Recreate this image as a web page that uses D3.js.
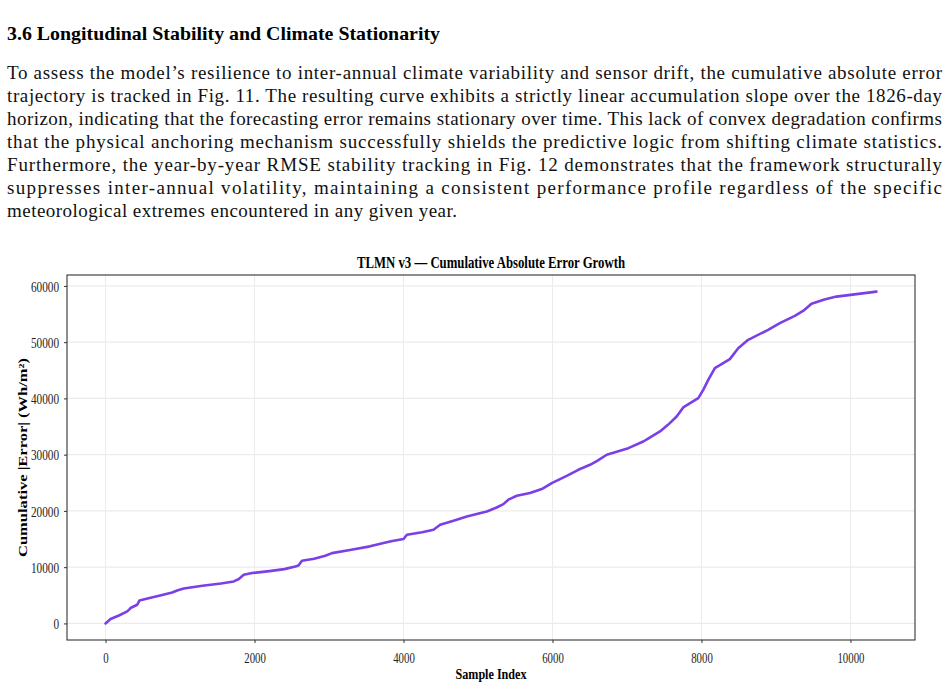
<!DOCTYPE html>
<html>
<head>
<meta charset="utf-8">
<script src="https://cdn.jsdelivr.net/npm/d3@7"></script>
<style>
  html, body { margin: 0; padding: 0; background: #fff; }
  svg { display: block; }
</style>
</head>
<body>
<div id="page"></div>
<script>
// page text
const heading = "3.6 Longitudinal Stability and Climate Stationarity";
const paragraph = [
  "To assess the model\u2019s resilience to inter-annual climate variability and sensor drift, the cumulative absolute error",
  "trajectory is tracked in Fig. 11. The resulting curve exhibits a strictly linear accumulation slope over the 1826-day",
  "horizon, indicating that the forecasting error remains stationary over time. This lack of convex degradation confirms",
  "that the physical anchoring mechanism successfully shields the predictive logic from shifting climate statistics.",
  "Furthermore, the year-by-year RMSE stability tracking in Fig. 12 demonstrates that the framework structurally",
  "suppresses inter-annual volatility, maintaining a consistent performance profile regardless of the specific",
  "meteorological extremes encountered in any given year."
];

// chart data
const sampleIndex = [0, 67, 180, 291, 320, 335, 425, 440, 456, 550, 648, 760, 894, 970, 1050, 1300, 1550, 1721,
  1790, 1855, 1967, 2200, 2400, 2548, 2590, 2637, 2800, 2950, 3040, 3300, 3550, 3732, 3850, 4000, 4046, 4250,
  4403, 4492, 4671, 4850, 5118, 5250, 5341, 5408, 5521, 5699, 5856, 5990, 6191, 6347, 6504, 6600, 6728, 7018,
  7219, 7300, 7443, 7550, 7667, 7755, 7957, 8024, 8091, 8180, 8381, 8493, 8627, 8895, 9052, 9253, 9380, 9477,
  9650, 9812, 10349];
const cumError = [0, 780, 1400, 2130, 2500, 2740, 3320, 3700, 4090, 4400, 4690, 5050, 5510, 5900, 6220, 6700,
  7100, 7460, 7900, 8650, 8950, 9300, 9650, 10130, 10300, 11140, 11500, 12030, 12500, 13100, 13700, 14280, 14650,
  15000, 15760, 16200, 16650, 17540, 18250, 19010, 19900, 20600, 21210, 22000, 22690, 23170, 23880, 24950, 26240,
  27310, 28200, 28900, 29980, 31160, 32340, 33000, 34120, 35300, 36780, 38400, 40050, 41520, 43300, 45380, 46980,
  48930, 50410, 52190, 53380, 54670, 55700, 56810, 57600, 58100, 58990];
const xTicks = [0, 2000, 4000, 6000, 8000, 10000];
const yTicks = [0, 10000, 20000, 30000, 40000, 50000, 60000];

const chartTitle = "TLMN v3 \u2014 Cumulative Absolute Error Growth";
const xLabel = "Sample Index";
const yLabel = "Cumulative |Error| (Wh/m\u00b2)";

const W = 950, H = 691;
const serif = "'Liberation Serif', 'Times New Roman', serif";

const svg = d3.select("#page").append("svg")
  .attr("width", W)
  .attr("height", H);

// squeeze a text element to a given width
function fit(sel, width) {
  sel.attr("textLength", width).attr("lengthAdjust", "spacingAndGlyphs");
}
function squeeze(sel, k) {
  sel.each(function() {
    const w = this.getComputedTextLength();
    d3.select(this).attr("textLength", w * k).attr("lengthAdjust", "spacingAndGlyphs");
  });
}

// heading
svg.append("text")
  .attr("x", 7).attr("y", 40)
  .attr("font-family", serif).attr("font-weight", "bold").attr("font-size", 19)
  .text(heading)
  .call(fit, 433);

// paragraph, justified
const textLeft = 7, textRight = 942;
const para = svg.append("g")
  .attr("font-family", serif).attr("font-size", 19).attr("fill", "#111");
para.selectAll("text")
  .data(paragraph)
  .join("text")
  .attr("x", textLeft)
  .attr("y", (d, i) => 79 + i * 23)
  .text(d => d)
  .each(function(d, i) {
    const t = d3.select(this);
    const target = i < paragraph.length - 1 ? textRight - textLeft : 450;
    const w = this.getComputedTextLength();
    t.attr("textLength", target)
      .attr("lengthAdjust", w > target ? "spacingAndGlyphs" : "spacing");
  });

// chart
const plot = { left: 67, right: 915, top: 275, bottom: 640 };
const xMax = d3.max(sampleIndex), yMax = d3.max(cumError);
const xPad = xMax * 0.05, yPad = yMax * 0.05;

const x = d3.scaleLinear()
  .domain([-xPad, xMax + xPad])
  .range([plot.left, plot.right]);
const y = d3.scaleLinear()
  .domain([-yPad, yMax + yPad])
  .range([plot.bottom, plot.top]);

// grid
const grid = svg.append("g").attr("stroke", "#ebebeb").attr("stroke-width", 1);
grid.selectAll("line.gx")
  .data(xTicks)
  .join("line")
  .attr("class", "gx")
  .attr("x1", d => x(d)).attr("x2", d => x(d))
  .attr("y1", plot.top).attr("y2", plot.bottom);
grid.selectAll("line.gy")
  .data(yTicks)
  .join("line")
  .attr("class", "gy")
  .attr("x1", plot.left).attr("x2", plot.right)
  .attr("y1", d => y(d)).attr("y2", d => y(d))
  .attr("stroke-width", 1.4);

// curve
const points = sampleIndex.map((s, i) => [s, cumError[i]]);
svg.append("path")
  .datum(points)
  .attr("fill", "none")
  .attr("stroke", "#7b3fe6")
  .attr("stroke-width", 2.6)
  .attr("stroke-linejoin", "round")
  .attr("stroke-linecap", "round")
  .attr("d", d3.line().x(d => x(d[0])).y(d => y(d[1])));

// panel border
svg.append("rect")
  .attr("x", plot.left).attr("y", plot.top)
  .attr("width", plot.right - plot.left)
  .attr("height", plot.bottom - plot.top)
  .attr("fill", "none")
  .attr("stroke", "#333")
  .attr("stroke-width", 1.1);

// axes
const xAxis = svg.append("g")
  .attr("transform", `translate(0,${plot.bottom})`)
  .call(d3.axisBottom(x).tickValues(xTicks).tickFormat(d3.format("d")).tickSize(3).tickPadding(6));
const yAxis = svg.append("g")
  .attr("transform", `translate(${plot.left},0)`)
  .call(d3.axisLeft(y).tickValues(yTicks).tickFormat(d3.format("d")).tickSize(3).tickPadding(5));

[xAxis, yAxis].forEach(ax => {
  ax.select(".domain").remove();
  ax.selectAll(".tick line").attr("stroke", "#333");
  ax.selectAll(".tick text")
    .attr("font-family", serif)
    .attr("font-size", 15)
    .attr("fill", "#222");
});
xAxis.selectAll(".tick text").attr("dy", "0.9em").call(squeeze, 0.72);
yAxis.selectAll(".tick text").attr("dy", "0.34em").call(squeeze, 0.75);

// titles
svg.append("text")
  .attr("x", (plot.left + plot.right) / 2).attr("y", 268)
  .attr("text-anchor", "middle")
  .attr("font-family", serif).attr("font-weight", "bold").attr("font-size", 16)
  .text(chartTitle)
  .call(fit, 268);

svg.append("text")
  .attr("x", 491).attr("y", 679)
  .attr("text-anchor", "middle")
  .attr("font-family", serif).attr("font-weight", "bold").attr("font-size", 15)
  .text(xLabel)
  .call(fit, 71);

svg.append("text")
  .attr("transform", `translate(27,${(plot.top + plot.bottom) / 2}) rotate(-90)`)
  .attr("text-anchor", "middle")
  .attr("font-family", serif).attr("font-weight", "bold").attr("font-size", 13)
  .text(yLabel)
  .call(fit, 199);
</script>
</body>
</html>
